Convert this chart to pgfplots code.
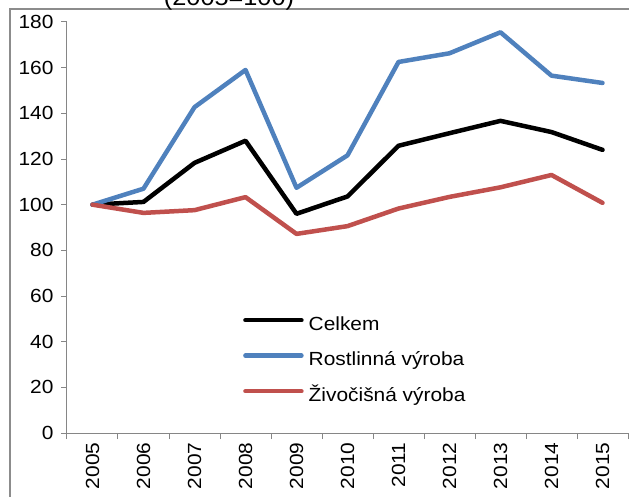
\documentclass[border=0pt]{standalone}
\usepackage{fontspec}
\setmainfont{Liberation Sans}[FakeStretch=1.1]
\usepackage{pgfplots}
\pgfplotsset{compat=1.18}
\definecolor{celkem}{HTML}{000000}
\definecolor{rostl}{HTML}{4F81BD}
\definecolor{zivo}{HTML}{C0504D}
\definecolor{axisgrey}{HTML}{868686}
\definecolor{framegrey}{HTML}{8C8C8C}
\newcommand{\chartfont}{\fontsize{19}{23}\selectfont}

\begin{document}
\begin{tikzpicture}
\useasboundingbox (0pt,0pt) rectangle (629pt,-497pt);
\clip (0pt,0pt) rectangle (629pt,-497pt);
% outer chart frame and the title, cut by the top edge as in the source
\draw[framegrey, line width=2.2pt] (10pt,-520pt) -- (10pt,-9pt) -- (640pt,-9pt);
\node[anchor=base, inner sep=0pt, font=\fontsize{23}{28}\selectfont] at (229pt,-6pt) {(2005=100)};
\begin{axis}[
  at={(67pt,-433pt)}, anchor=south west,
  width=561pt, height=411pt, scale only axis,
  xmin=-0.5, xmax=10.5, ymin=0, ymax=180,
  axis x line=bottom, axis y line=left,
  axis line style={axisgrey, line width=1pt, -},
  xtick={-0.5,0.5,...,10.5},
  xticklabels={2005,2006,2007,2008,2009,2010,2011,2012,2013,2014,2015},
  x tick label as interval,
  ytick={0,20,...,180},
  /pgf/number format/assume math mode=true,
  tick align=outside,
  tick style={axisgrey, line width=1pt},
  major tick length=6pt,
  xticklabel style={rotate=90, anchor=east, font=\chartfont},
  yticklabel style={font=\chartfont, xshift=-4pt},
  legend style={at={(0.3137,0.287)}, anchor=north west, draw=none, fill=none,
    font=\chartfont, inner sep=0pt, row sep=15.5pt, column sep=5pt,
    nodes={inner sep=0pt, text height=15pt, text depth=5pt}},
  legend cell align={left},
  legend image code/.code={\draw[#1] (0pt,5pt) -- (56pt,5pt);},
  every axis plot/.append style={line width=4.5pt, line join=round, line cap=round},
]
\addplot[color=celkem] coordinates {
  (0,100) (1,101.2) (2,118.3) (3,128) (4,96) (5,103.6) (6,125.8) (7,131.3) (8,136.7) (9,131.8) (10,124)
};
\addlegendentry{Celkem}
\addplot[color=rostl] coordinates {
  (0,100) (1,107) (2,142.7) (3,159) (4,107.4) (5,121.6) (6,162.5) (7,166.3) (8,175.5) (9,156.5) (10,153.3)
};
\addlegendentry{Rostlinná výroba}
\addplot[color=zivo] coordinates {
  (0,100) (1,96.4) (2,97.6) (3,103.3) (4,87.2) (5,90.6) (6,98.3) (7,103.4) (8,107.6) (9,113) (10,100.8)
};
\addlegendentry{Živočišná výroba}
\end{axis}
\end{tikzpicture}
\end{document}
